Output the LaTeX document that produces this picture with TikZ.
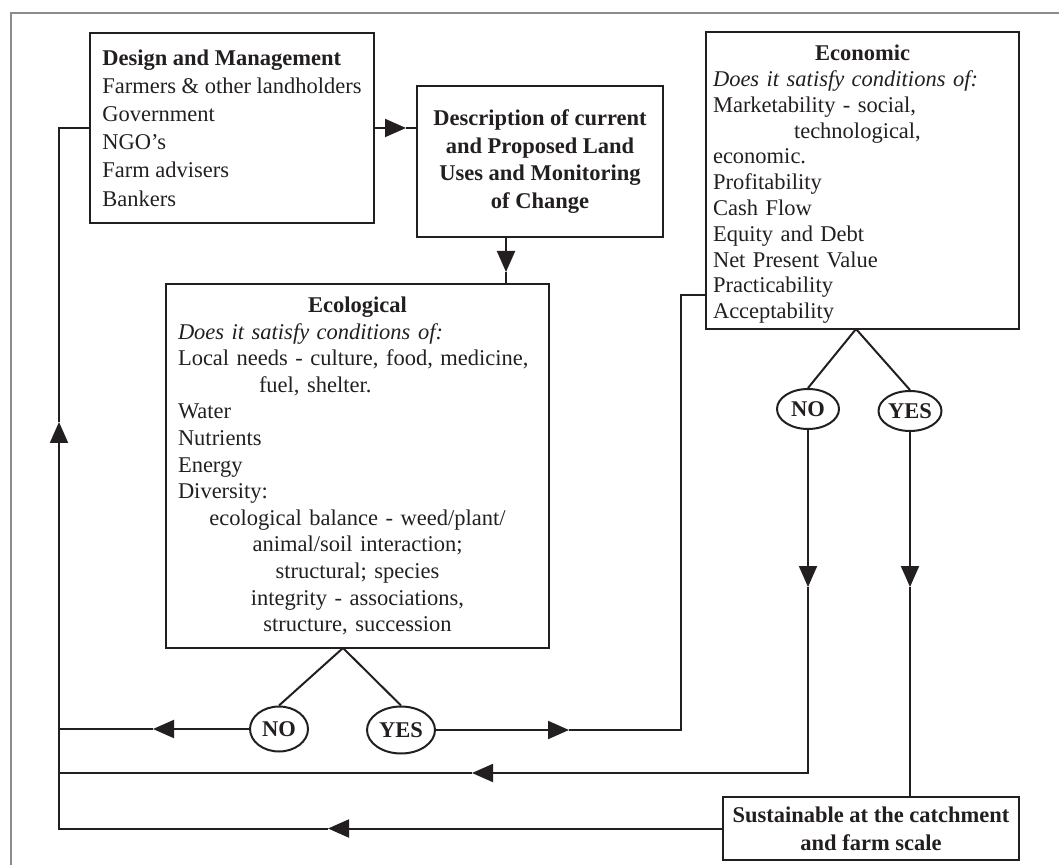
\documentclass[tikz,border=0pt]{standalone}
\usepackage{fontspec}
\setmainfont{Liberation Serif}
\usetikzlibrary{arrows.meta,shapes.geometric}

\definecolor{ink}{HTML}{231F20}
\definecolor{framegray}{HTML}{8C8C8C}

\newcommand{\ctr}[1]{\makebox[\linewidth][c]{#1}}

\tikzset{box/.style={draw=ink,line width=1pt,text=ink,inner sep=0pt},
design box/.style={box,align=left,minimum width=142pt,minimum height=95pt,font=\fontsize{11.25}{14.1}\selectfont},
title box/.style={box,align=center,font=\fontsize{11.25}{13.85}\selectfont\bfseries},
eco box/.style={box,align=left,text width=179.5pt,inner xsep=6pt,minimum height=182pt,font=\fontsize{11.25}{13.3}\selectfont},
econ box/.style={box,align=left,text width=149.5pt,inner xsep=3.5pt,minimum height=148.5pt,font=\fontsize{11.25}{12.9}\selectfont},
answer/.style={ellipse,draw=ink,line width=1pt,text=ink,inner sep=0pt,font=\fontsize{11.25}{13}\selectfont\bfseries},
flow/.style={-{Triangle[length=10.5pt,width=9pt]}},
link/.style={draw=ink,line width=1pt}}

\begin{document}
\begin{tikzpicture}[x=0.5pt,y=-0.5pt]
\useasboundingbox (0,0) rectangle (1059,865);

%% frame
\draw [framegray,line width=0.75pt] (11,865) -- (11,13) -- (1059,13);

%% boxes
\node [design box] (design) at (232,128) {\textbf{Design and Management}\\
Farmers \& other landholders\\
Government\\
NGO’s\\
Farm advisers\\
Bankers};

\node [title box,minimum width=123pt,minimum height=75.5pt] (desc) at (540,161.5) {Description of current\\
and Proposed Land\\
Uses and Monitoring\\
of Change};

\node [eco box] (eco) at (357.5,466) {\ctr{\textbf{Ecological}}\\
\textit{Does it satisfy conditions of:}\\
Local needs - culture, food, medicine,\\
\hspace*{40.5pt}fuel, shelter.\\
Water\\
Nutrients\\
Energy\\
Diversity:\\
\ctr{ecological balance - weed/plant/}\\
\ctr{animal/soil interaction;}\\
\ctr{structural; species}\\
\ctr{integrity - associations,}\\
\ctr{structure, succession}};

\node [econ box] (econ) at (862.5,180.5) {\rule{0pt}{11.7pt}\ctr{\textbf{Economic}}\\
\textit{Does it satisfy conditions of:}\\
Marketability - social,\\
\hspace*{40.5pt}technological,\\
economic.\\
Profitability\\
Cash Flow\\
Equity and Debt\\
Net Present Value\\
Practicability\\
Acceptability};

\node [title box,minimum width=148pt,minimum height=31.5pt] (sust) at (871,828.5) {Sustainable at the catchment\\
and farm scale};

%% answers
\node [answer,minimum width=29pt,minimum height=22.5pt] (noA) at (279,729) {NO};
\node [answer,minimum width=34pt,minimum height=23.5pt] (yesA) at (401,730) {YES};
\node [answer,minimum width=31pt,minimum height=20pt] (noB) at (808,409) {NO};
\node [answer,minimum width=31.5pt,minimum height=20pt] (yesB) at (910,411) {YES};

%% Coordinates of bends and arrow tips
\coordinate (lx) at (59,0);
\coordinate (ecob) at (343,648);
\coordinate (econb) at (856,329);
\coordinate (t1) at (406,128);
\coordinate (t2) at (506,272);
\coordinate (t3) at (153,729);
\coordinate (t4) at (569,730);
\coordinate (c4a) at (681,730);
\coordinate (c4b) at (681,295);
\coordinate (t5) at (808,587);
\coordinate (c5) at (808,773);
\coordinate (t5b) at (472,773);
\coordinate (t6) at (910,587);
\coordinate (t7) at (328,828.5);
\coordinate (c7) at (59,828.5);
\coordinate (t7b) at (59,422);
\coordinate (c7b) at (59,128);

%% branches
\draw [link] (ecob) -- (noA.north);
\draw [link] (ecob) -- (yesA.north);
\draw [link] (econb) -- (noB.north);
\draw [link] (econb) -- (yesB.north);

%% flow lines
\draw [link,flow] (design.east) -- (t1);
\draw [link] (t1) -- (t1 -| desc.west);
\draw [link,flow] (desc.south -| t2) -- (t2);
\draw [link] (t2) -- (eco.north -| t2);
\draw [link,flow] (noA.west) -- (t3);
\draw [link] (t3) -- (t3 -| lx);
\draw [link,flow] (yesA.east) -- (t4);
\draw [link] (t4) -- (c4a) -- (c4b) -- (c4b -| econ.west);
\draw [link,flow] (noB.south) -- (t5);
\draw [link,flow] (t5) -- (c5) -- (t5b);
\draw [link] (t5b) -- (t5b -| lx);
\draw [link,flow] (yesB.south) -- (t6);
\draw [link] (t6) -- (t6 |- sust.north);
\draw [link,flow] (sust.west) -- (t7);
\draw [link,flow] (t7) -- (c7) -- (t7b);
\draw [link] (t7b) -- (c7b) -- (design.west);

\end{tikzpicture}
\end{document}
